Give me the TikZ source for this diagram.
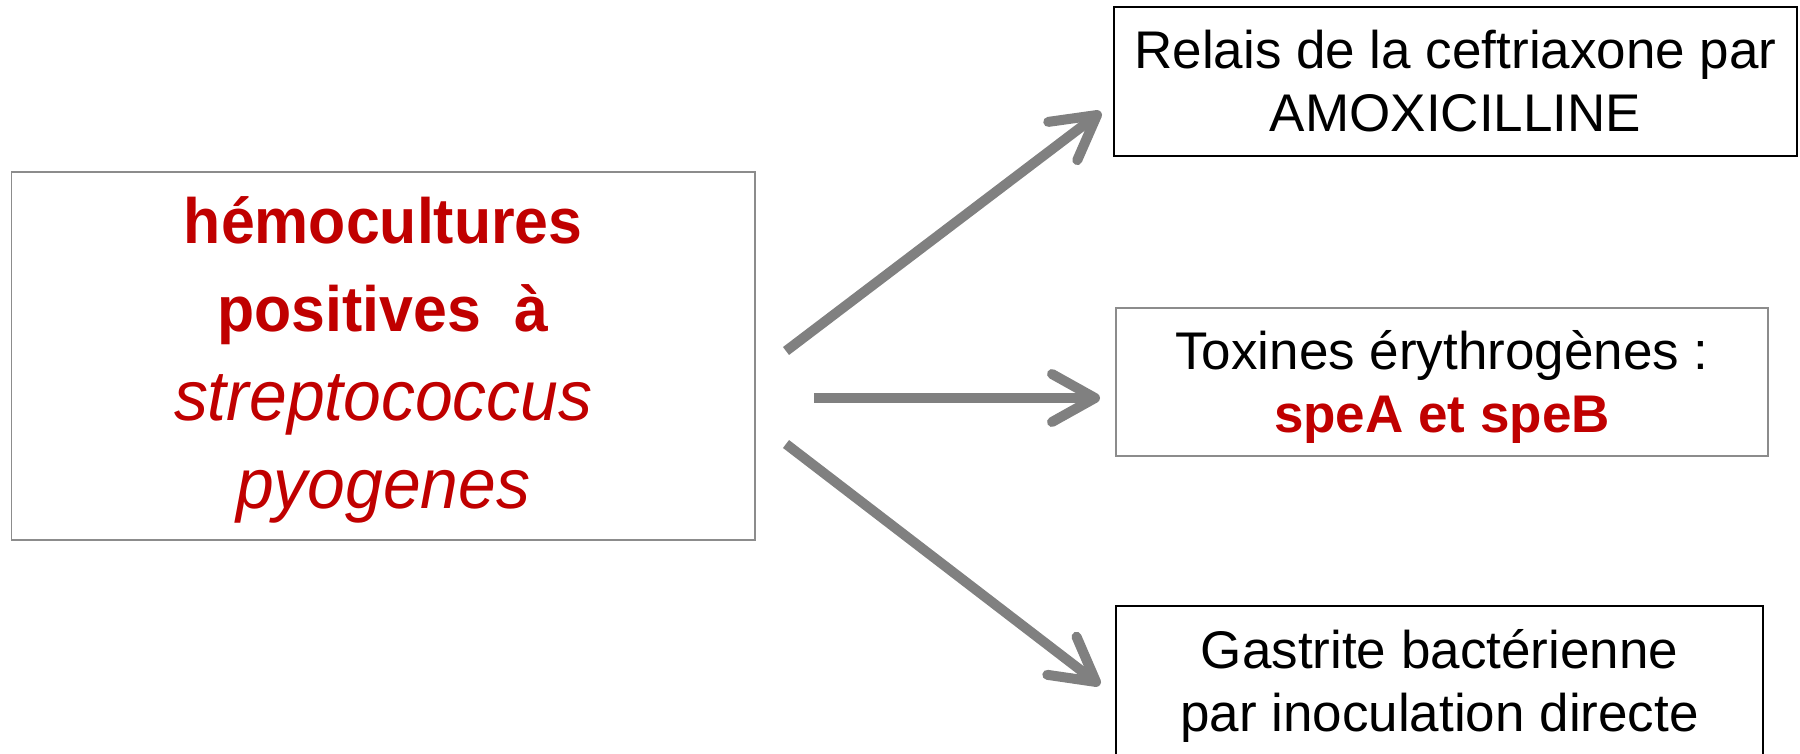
\documentclass[tikz,border=0pt]{standalone}
\usepackage{fontspec}
\setmainfont{Liberation Sans}
\newfontfamily\lfont[FakeStretch=0.95]{Liberation Sans}
\newfontfamily\lifont[FakeStretch=0.955]{Liberation Sans}
\usetikzlibrary{arrows.meta}
\definecolor{cred}{HTML}{C00000}
\definecolor{agray}{HTML}{808080}
\definecolor{bgray}{HTML}{8C8C8C}
\begin{document}
\begin{tikzpicture}[x=1pt,y=-1pt,
  box/.style={draw, inner sep=0pt, outer sep=0pt, align=center, line width=1.5pt},
  rbox/.style={box, font=\fontsize{53}{63}\selectfont},
  arr/.style={draw=agray, line width=10pt, -{Straight Barb[length=43pt,width=48pt,round]}}
]
\useasboundingbox (0,0) rectangle (1800,753);

\node[box, draw=bgray, text=cred, minimum width=743.5pt, minimum height=368pt,
      font=\lfont\fontsize{64}{88.5}\selectfont] (L) at (383.25,356)
  {\rule{0pt}{60pt}{\bfseries hémocultures}\\
   {\bfseries positives\ \ à}\\
   {\lifont\itshape\fontsize{71}{88.5}\selectfont streptococcus}\\
   {\lifont\itshape\fontsize{71}{88.5}\selectfont pyogenes}\rule[-20pt]{0pt}{20pt}};

\node[rbox, minimum width=683pt, minimum height=149pt] (R1) at (1455.5,81.5)
  {\rule{0pt}{52pt}Relais de la ceftriaxone par\\AMOXICILLINE\rule[-15.4pt]{0pt}{15.4pt}};

\node[rbox, draw=bgray, minimum width=652pt, minimum height=148pt] (R2) at (1442,382)
  {\rule{0pt}{55pt}Toxines érythrogènes :\\{\bfseries\color{cred}speA et speB}\rule[-17.4pt]{0pt}{17.4pt}};

\node[rbox, minimum width=647pt, minimum height=164pt] (R3) at (1439.5,688)
  {\rule{0pt}{45pt}Gastrite bactérienne\\par inoculation directe\rule[-21.4pt]{0pt}{21.4pt}};

\coordinate (a1s) at (786,351);
\coordinate (a1e) at (1101,112);
\coordinate (a2s) at (814,398);
\coordinate (a2e) at (1100,398);
\coordinate (a3s) at (786,444);
\coordinate (a3e) at (1100,685);

\draw[arr] (a1s) -- (a1e);
\draw[arr] (a2s) -- (a2e);
\draw[arr] (a3s) -- (a3e);
\end{tikzpicture}
\end{document}
